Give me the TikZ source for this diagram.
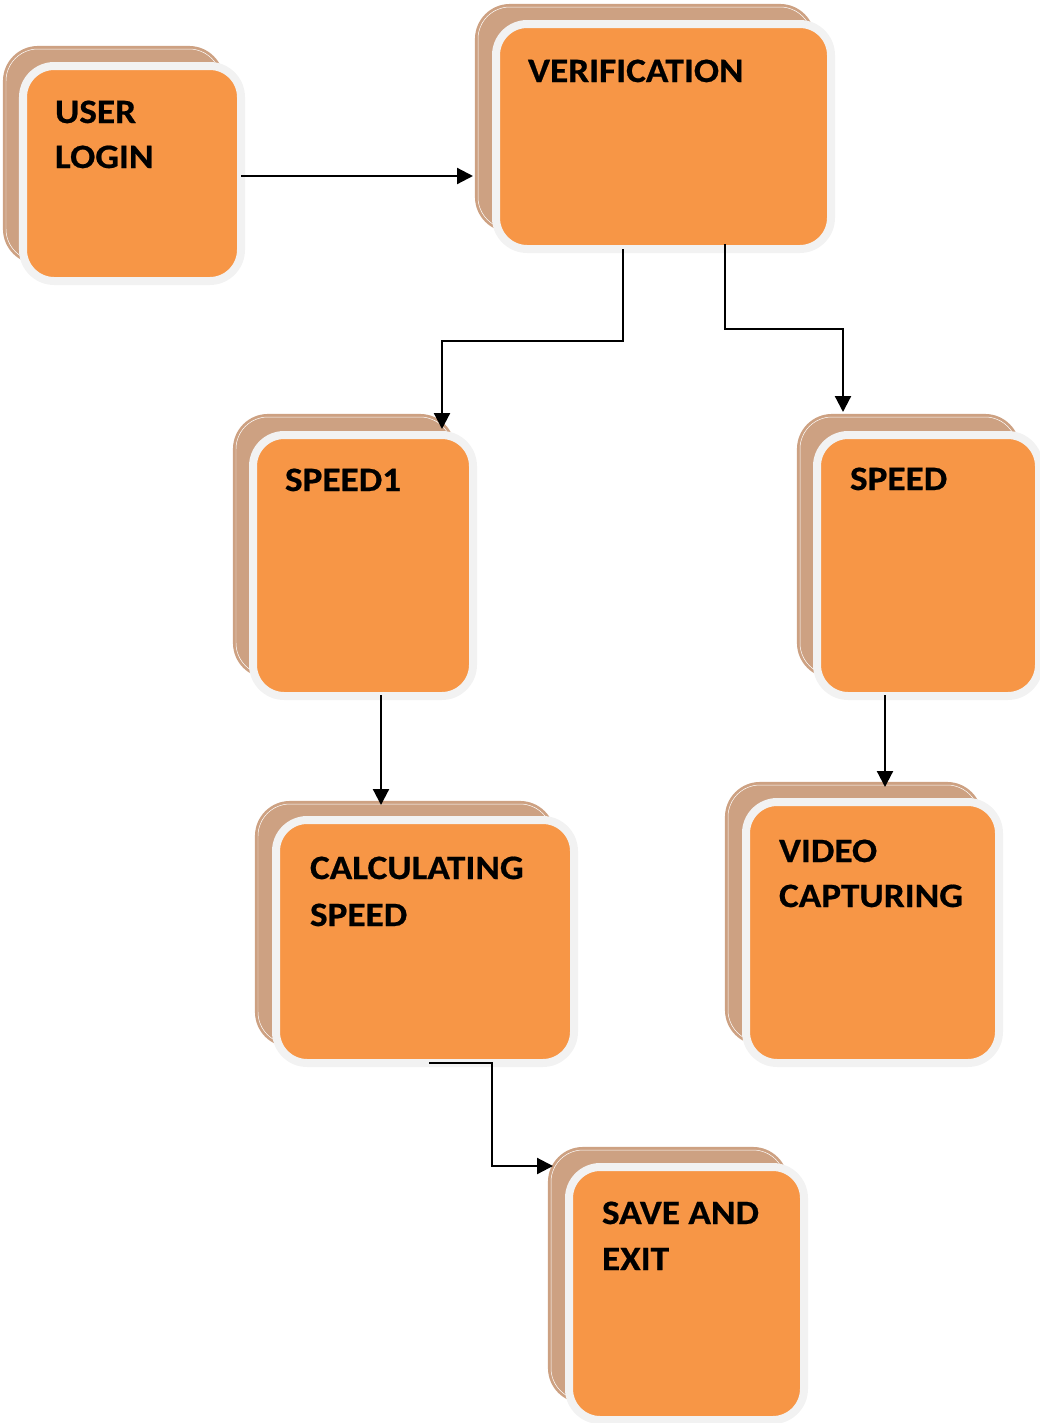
\documentclass[tikz,border=0pt]{standalone}
\usepackage{fontspec}
\setmainfont{Carlito}[BoldFeatures={FakeStretch=1.09,FakeBold=0.6}]
\usetikzlibrary{arrows.meta}
\definecolor{tanc}{RGB}{205,161,130}
\definecolor{orangec}{RGB}{247,150,70}
\definecolor{rimc}{RGB}{242,242,242}
\newcommand\cardfont{\bfseries\fontsize{24.3}{28}\selectfont}
\newcommand\cardpair[9]{%
  \node[backcard, minimum width={(#4-#2-6)*0.025cm}, minimum height={(#5-#3-6)*0.025cm}] (#1B) at ({(#2+#4)/2},{(#3+#5)/2}) {};
  \node[frontcard, minimum width={(#8-#6-8)*0.025cm}, minimum height={(#9-#7-8)*0.025cm}] (#1) at ({(#6+#8)/2},{(#7+#9)/2}) {};
}
\tikzset{
  backcard/.style={fill=tanc, draw=tanc, double=white, double distance=0.35pt, line width=0.07cm, rounded corners=0.8cm, inner sep=0pt, outer sep=0pt},
  frontcard/.style={fill=orangec, draw=rimc, line width=0.2cm, rounded corners=0.78cm, inner sep=0pt, outer sep=0pt},
  lbl/.style={anchor=base west, inner sep=0pt, outer sep=0pt, font=\cardfont, text=black},
  arr/.style={line width=0.055cm, -{Triangle[length=0.4cm,width=0.4cm]}},
}
\begin{document}
\begin{tikzpicture}[x=0.025cm,y=-0.025cm]
\useasboundingbox (0,0) rectangle (1040,1423);
% cards
\cardpair{login}{3}{46}{224}{264}{19}{62}{245}{285}
\cardpair{verif}{475}{4}{815}{232}{492}{20}{835}{253}
\cardpair{spda}{233}{414}{455}{678}{249}{431}{477}{700}
\cardpair{spdb}{797}{414}{1020}{678}{813}{431}{1043}{700}
\cardpair{calc}{255}{801}{555}{1047}{272}{816}{578}{1067}
\cardpair{video}{725}{782}{982}{1045}{742}{798}{1003}{1067}
\cardpair{save}{548}{1147}{788}{1403}{565}{1163}{808}{1424}
% labels
\node[lbl] (t1a) at (55,123) {USER};
\node[lbl] (t1b) at (55,168) {LOGIN};
\node[lbl] (t2) at (528,82) {VERIFICATION};
\node[lbl] (t3) at (285,491) {SPEED1};
\node[lbl] (t4) at (850,490) {SPEED};
\node[lbl] (t5a) at (310,879) {CALCULATING};
\node[lbl] (t5b) at (310,926) {SPEED};
\node[lbl] (t6a) at (779,862) {VIDEO};
\node[lbl] (t6b) at (779,907) {CAPTURING};
\node[lbl] (t7a) at (602,1224) {SAVE AND};
\node[lbl] (t7b) at (602,1270) {EXIT};
% connector points
\coordinate (a1) at (241,176);
\coordinate (a2) at (473,176);
\coordinate (b0) at (623,249);
\coordinate (b1) at (623,341);
\coordinate (b2) at (442,341);
\coordinate (b3) at (442,429);
\coordinate (c0) at (725,244);
\coordinate (c1) at (725,329);
\coordinate (c2) at (843,329);
\coordinate (c3) at (843,412);
\coordinate (d0) at (381,695);
\coordinate (d1) at (381,805);
\coordinate (e0) at (885,695);
\coordinate (e1) at (885,787);
\coordinate (f0) at (429,1063);
\coordinate (f1) at (492,1063);
\coordinate (f2) at (492,1166);
\coordinate (f3) at (553,1166);
% connectors
\draw[arr] (a1) -- (a2);
\draw[arr] (b0) -- (b1) -- (b2) -- (b3);
\draw[arr] (c0) -- (c1) -- (c2) -- (c3);
\draw[arr] (d0) -- (d1);
\draw[arr] (e0) -- (e1);
\draw[arr] (f0) -- (f1) -- (f2) -- (f3);
\end{tikzpicture}
\end{document}
